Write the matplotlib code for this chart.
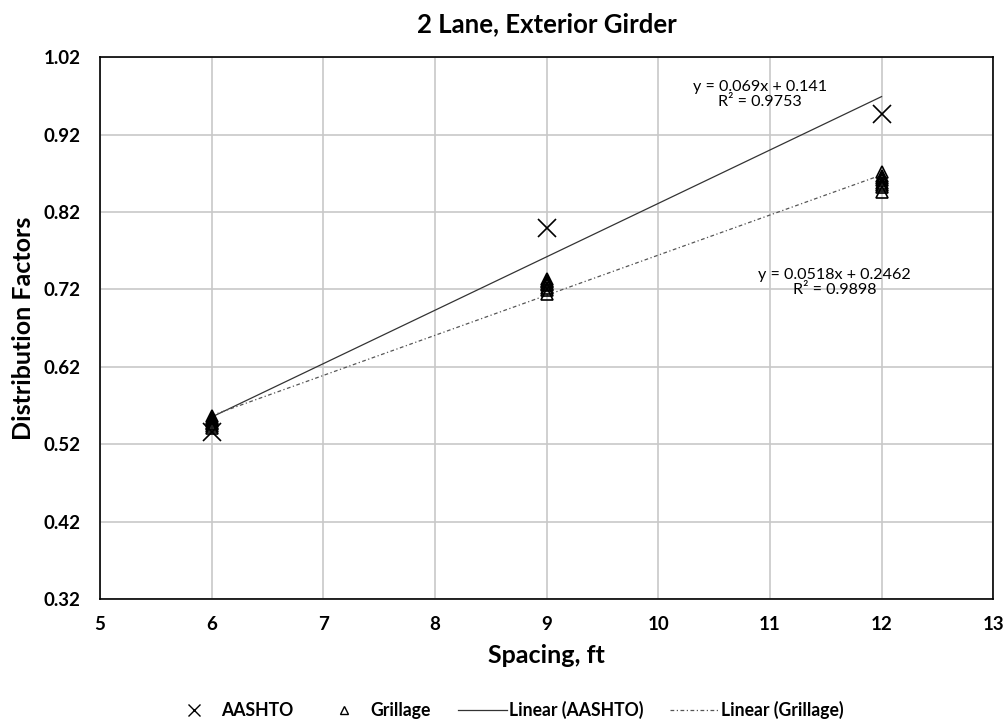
import matplotlib
matplotlib.use("Agg")
import matplotlib.pyplot as plt
from matplotlib.lines import Line2D

plt.rcParams['font.family'] = ['Lato', 'DejaVu Sans']

# AASHTO values
aashto_x = [6, 9, 12]
aashto_y = [0.536, 0.799, 0.947]

# Grillage values (several cases per spacing)
grill_x = [6] * 8 + [9] * 8 + [12] * 8
grill_y = [0.541, 0.544, 0.546, 0.548, 0.550, 0.552, 0.554, 0.557,
           0.714, 0.719, 0.722, 0.725, 0.727, 0.729, 0.731, 0.734,
           0.846, 0.852, 0.855, 0.858, 0.861, 0.864, 0.867, 0.871]

# trendline coefficients (slope, intercept) shown on chart
aashto_fit = (0.069, 0.141)
grill_fit = (0.0518, 0.2462)
fit_x = [6, 12]

x_ticks = [5, 6, 7, 8, 9, 10, 11, 12, 13]
y_ticks = [0.32, 0.42, 0.52, 0.62, 0.72, 0.82, 0.92, 1.02]

fig = plt.figure(figsize=(10.07, 7.23), dpi=100)
ax = fig.add_axes([0.0993, 0.1715, 0.887, 0.7495])

ax.plot(aashto_x, aashto_y, linestyle='none', marker='x', color='black',
        markersize=13, markeredgewidth=1.2, zorder=4)
ax.plot(grill_x, grill_y, linestyle='none', marker='^', markerfacecolor='none',
        markeredgecolor='black', markersize=8, markeredgewidth=1.2, zorder=4)

ax.plot(fit_x, [aashto_fit[0] * v + aashto_fit[1] for v in fit_x],
        color='#333333', linewidth=0.9, zorder=3)
ax.plot(fit_x, [grill_fit[0] * v + grill_fit[1] for v in fit_x],
        color='#555555', linewidth=0.9, linestyle=(0, (3, 2, 1, 2)), zorder=3)

ax.text(10.91, 0.972, "y = 0.069x + 0.141\nR² = 0.9753", ha='center', va='center',
        fontsize=11.6, linespacing=1.1)
ax.text(11.58, 0.729, "y = 0.0518x + 0.2462\nR² = 0.9898", ha='center', va='center',
        fontsize=11.6, linespacing=1.1)

ax.set_xlim(5, 13)
ax.set_ylim(0.32, 1.02)
ax.set_xticks(x_ticks)
ax.set_yticks(y_ticks)
ax.set_yticklabels(["%.2f" % v for v in y_ticks])
ax.tick_params(labelsize=13.5, length=0)
ax.tick_params(axis='y', pad=14)
ax.tick_params(axis='x', pad=12)
for lab in ax.get_xticklabels() + ax.get_yticklabels():
    lab.set_fontweight('bold')
ax.grid(True, color='#c8c8c8', linewidth=1.2)
ax.set_axisbelow(True)
for s in ax.spines.values():
    s.set_color('black')
    s.set_linewidth(1.2)

ax.set_title("2 Lane, Exterior Girder", fontsize=18.5, fontweight='bold', pad=18)
ax.set_xlabel("Spacing, ft", fontsize=18, fontweight='bold', labelpad=8)
ax.set_ylabel("Distribution Factors", fontsize=18, fontweight='bold', labelpad=6)

handles = [
    Line2D([], [], linestyle='none', marker='x', color='black', markersize=8, markeredgewidth=1),
    Line2D([], [], linestyle='none', marker='^', markerfacecolor='none', markeredgecolor='black',
           markersize=6, markeredgewidth=1),
    Line2D([], [], color='#333333', linewidth=0.9),
    Line2D([], [], color='#555555', linewidth=0.9, linestyle=(0, (3, 2, 1, 2))),
]
labels = ["AASHTO", "Grillage", "Linear (AASHTO)", "Linear (Grillage)"]
leg = fig.legend(handles, labels, loc='center', bbox_to_anchor=(0.503, 0.018), ncol=4,
                 frameon=False, prop={'weight': 'bold', 'size': 12.7}, handlelength=2.8,
                 columnspacing=1.5, handletextpad=0.1)

fig.savefig("out.png", dpi=100)
